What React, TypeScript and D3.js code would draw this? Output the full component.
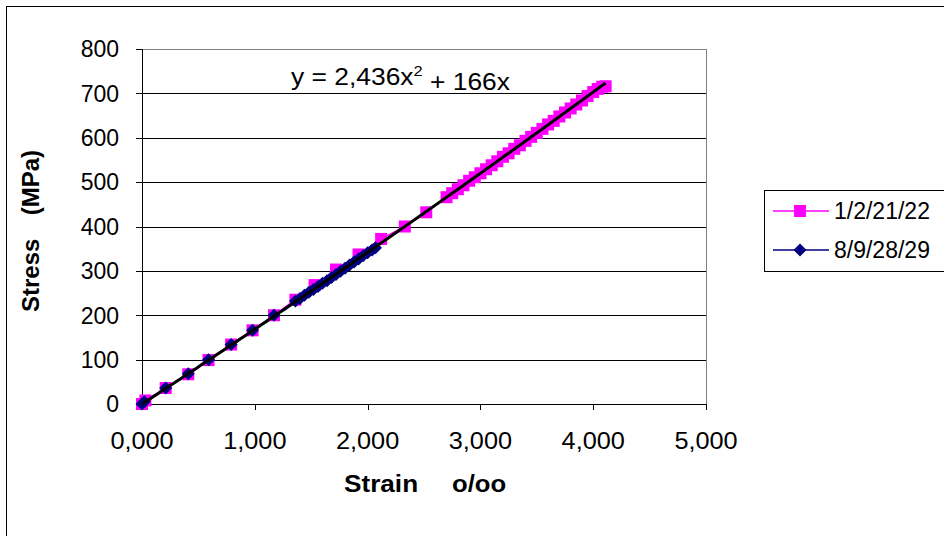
import React from "react";
import * as d3 from "d3";

// Series "1/2/21/22" (strain o/oo, stress MPa)
const pinkX = [0.0, 0.03, 0.21, 0.41, 0.59, 0.79, 0.98, 1.17, 1.36, 1.53, 1.72, 1.92, 2.12, 2.33, 2.52,
  2.7, 2.75, 2.8, 2.85, 2.9, 2.95, 3.0, 3.05, 3.1, 3.15, 3.2, 3.25, 3.3, 3.35, 3.4, 3.45, 3.5, 3.55, 3.6,
  3.65, 3.7, 3.75, 3.8, 3.85, 3.9, 3.95, 4.0, 4.04, 4.08, 4.11];
const pinkY = [0, 8, 36, 67, 99, 134, 166, 200, 235, 268, 303, 337, 372, 400, 432,
  466, 475, 484, 493, 503, 511, 520, 529, 538, 547, 557, 565, 575, 583, 593, 602, 611, 620, 630,
  638, 648, 657, 666, 675, 684, 694, 703, 710, 715, 716];

// Series "8/9/28/29"
const navyX = [0.0, 0.02, 0.21, 0.41, 0.59, 0.79, 0.98, 1.17, 1.36, 1.4, 1.44, 1.48, 1.52, 1.56, 1.6, 1.64,
  1.68, 1.72, 1.76, 1.8, 1.84, 1.88, 1.92, 1.96, 2.0, 2.04, 2.07];
const navyY = [0, 5, 36, 68, 100, 134, 166, 200, 232, 238, 245, 252, 258, 265, 272, 278,
  285, 292, 299, 306, 313, 320, 327, 334, 341, 347, 352];

// Polynomial trendline y = 2.436x^2 + 166x
const trendA = 2.436;
const trendB = 166;
const trendRange = [0, 4.11];

const xTicks = [0, 1, 2, 3, 4, 5];
const xTickLabels = ["0,000", "1,000", "2,000", "3,000", "4,000", "5,000"];
const yTicks = [0, 100, 200, 300, 400, 500, 600, 700, 800];
const seriesNames = ["1/2/21/22", "8/9/28/29"];

const PINK = "#FF00FF";
const NAVY = "#000080";
const FONT = "'Liberation Sans', Arial, sans-serif";

export default function App() {
  const L = 142, R = 706, T = 49, B = 404;
  const x = d3.scaleLinear().domain([0, 5]).range([L, R]);
  const y = d3.scaleLinear().domain([0, 800]).range([B, T]);

  const pink = pinkX.map((v, i) => [v, pinkY[i]] as [number, number]);
  const navy = navyX.map((v, i) => [v, navyY[i]] as [number, number]);
  const line = d3.line<[number, number]>().x(d => x(d[0])).y(d => y(d[1]));
  const trendPts: [number, number][] = d3.range(0, 201).map(i => {
    const xv = trendRange[0] + (trendRange[1] - trendRange[0]) * i / 200;
    return [xv, trendA * xv * xv + trendB * xv];
  });

  const sq = 12;
  const dm = 6.5;
  const diamond = (cx: number, cy: number) =>
    `M${cx},${cy - dm}L${cx + dm},${cy}L${cx},${cy + dm}L${cx - dm},${cy}Z`;

  const legTop = 190, row1 = 211, row2 = 250;
  return (
    <svg width={944} height={536} style={{ position: "absolute", left: 0, top: 0, background: "#fff" }}
      fontFamily={FONT}>
      <rect x={6.5} y={6.5} width={1000} height={600} fill="#fff" stroke="#000" strokeWidth={1} />
      {/* gridlines */}
      {yTicks.map(t => (
        <line key={t} x1={L} x2={R} y1={Math.round(y(t)) + 0.5} y2={Math.round(y(t)) + 0.5}
          stroke={t === 800 ? "#808080" : "#000"} strokeWidth={1} />
      ))}
      <line x1={R + 0.5} x2={R + 0.5} y1={T} y2={B} stroke="#808080" />
      {/* axes */}
      <line x1={L + 0.5} x2={L + 0.5} y1={T} y2={B} stroke="#000" />
      <line x1={L} x2={R} y1={Math.round(B) + 0.5} y2={Math.round(B) + 0.5} stroke="#000" />
      {yTicks.map(t => (
        <g key={"yt" + t}>
          <line x1={L - 6} x2={L} y1={Math.round(y(t)) + 0.5} y2={Math.round(y(t)) + 0.5} stroke="#000" />
          <text x={119} y={y(t)} dy="0.36em" textAnchor="end" fontSize={23}>{t}</text>
        </g>
      ))}
      {xTicks.map((t, i) => (
        <g key={"xt" + t}>
          <line x1={Math.round(x(t)) + 0.5} x2={Math.round(x(t)) + 0.5} y1={B} y2={B + 6} stroke="#000" />
          <g transform={`translate(${x(t)},441) scale(1.1,1)`}>
            <text x={0} y={0} dy="0.36em" textAnchor="middle" fontSize={23}>{xTickLabels[i]}</text>
          </g>
        </g>
      ))}
      {/* series */}
      <path d={line(pink) || ""} fill="none" stroke={PINK} strokeWidth={1.5} />
      {pink.map((d, i) => (
        <rect key={"p" + i} x={x(d[0]) - sq / 2} y={y(d[1]) - sq / 2} width={sq} height={sq} fill={PINK} />
      ))}
      <path d={line(navy) || ""} fill="none" stroke={NAVY} strokeWidth={1.5} />
      {navy.map((d, i) => (
        <path key={"n" + i} d={diamond(x(d[0]), y(d[1]))} fill={NAVY} />
      ))}
      <path d={line(trendPts) || ""} fill="none" stroke="#000" strokeWidth={3} />
      {/* equation */}
      <g transform="translate(291,76) scale(1.1,1)">
        <text x={0} y={0} dy="0.36em" fontSize={24}>
          y = 2,436x<tspan dy="-0.55em" fontSize={15}>2</tspan><tspan dy="0.55em" fontSize={24}> + 166x</tspan>
        </text>
      </g>
      {/* axis titles */}
      <g transform="translate(344,483) scale(1.09,1)">
        <text x={0} y={0} dy="0.36em" fontSize={24} fontWeight="bold">Strain</text>
      </g>
      <g transform="translate(452,483) scale(1.07,1)">
        <text x={0} y={0} dy="0.36em" fontSize={24} fontWeight="bold">o/oo</text>
      </g>
      <text transform={`translate(30,312) rotate(-90)`} dy="0.36em" fontSize={24} fontWeight="bold">Stress</text>
      <text transform={`translate(30,150) rotate(-90)`} dy="0.36em" textAnchor="end" fontSize={24}
        fontWeight="bold">(MPa)</text>
      {/* legend */}
      <rect x={764.5} y={legTop + 0.5} width={300} height={271 - legTop} fill="#fff" stroke="#000" />
      <line x1={773} x2={829} y1={row1} y2={row1} stroke={PINK} strokeWidth={1.5} />
      <rect x={800 - sq / 2} y={row1 - sq / 2} width={sq} height={sq} fill={PINK} />
      <text x={834} y={row1} dy="0.36em" fontSize={23}>{seriesNames[0]}</text>
      <line x1={773} x2={829} y1={row2} y2={row2} stroke={NAVY} strokeWidth={1.5} />
      <path d={diamond(800, row2)} fill={NAVY} />
      <text x={834} y={row2} dy="0.36em" fontSize={23}>{seriesNames[1]}</text>
    </svg>
  );
}
